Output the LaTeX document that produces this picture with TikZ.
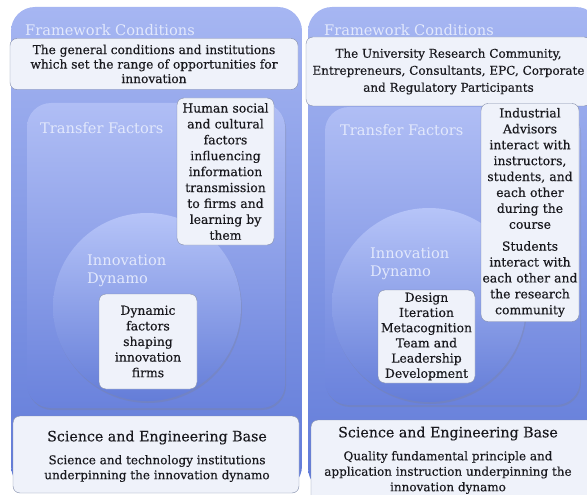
\documentclass[tikz,border=0pt]{standalone}
\usepackage{fontspec}
\setmainfont{DejaVu Serif}
\newfontfamily\inkfont{DejaVu Serif}[FakeBold=0.35]
\usetikzlibrary{shadows}

\definecolor{panelhi}{RGB}{166,182,242}
\definecolor{panello}{RGB}{96,122,216}
\definecolor{tfhi}{RGB}{176,190,245}
\definecolor{tflo}{RGB}{106,130,220}
\definecolor{dynhi}{RGB}{182,196,248}
\definecolor{dynlo}{RGB}{100,125,216}
\definecolor{boxfill}{RGB}{239,242,250}
\definecolor{boxline}{RGB}{130,140,170}
\definecolor{ink}{RGB}{25,25,30}
\definecolor{tagtext}{RGB}{226,232,252}

\begin{document}
\begin{tikzpicture}[x=1pt, y=-1pt,
    panel/.style={rounded corners=24, top color=panelhi, bottom color=panello},
    tfarea/.style={rounded corners=24, top color=tfhi, bottom color=tflo,
      drop shadow={opacity=.25, shadow xshift=1pt, shadow yshift=-2pt}},
    dynamo/.style={top color=dynhi, bottom color=dynlo,
      drop shadow={opacity=.25, shadow xshift=1pt, shadow yshift=-2pt}},
    textbox/.style={draw=boxline, line width=.4pt, fill=boxfill, rounded corners=7,
      align=center, inner sep=1pt, text=ink, font=\inkfont\fontsize{12.4}{15.6}\selectfont},
    tag/.style={text=tagtext, anchor=west, align=left, inner sep=0pt,
      font=\fontsize{14.6}{18}\selectfont},
    basetitle/.style={text=ink, font=\inkfont\fontsize{14.2}{16}\selectfont},
    basetext/.style={text=ink, align=center, font=\inkfont\fontsize{12}{15}\selectfont}]
  \useasboundingbox (0,0) rectangle (587,495);
  \clip (0,0) rectangle (587,495);

  % left panel: the general model
  \shade[panel] (11,7) rectangle (302,490);
  \shade[tfarea] (27,103) rectangle (285,408);
  \shade[dynamo] (147,307) circle [radius=94pt];

  \node[tag] (fc1) at (25,30) {Framework Conditions};
  \node[textbox, minimum width=288, minimum height=51,
    font=\inkfont\fontsize{12.2}{14.5}\selectfont] (gen1) at (154,64)
    {The general conditions and institutions\\which set the range of opportunities for\\innovation};
  \node[tag] (tf1) at (40,128) {Transfer Factors};
  \node[textbox, text width=95, minimum height=147,
    font=\inkfont\fontsize{12.4}{15.9}\selectfont] (hum1) at (225.5,171.5)
    {Human social\\and cultural\\factors\\influencing\\information\\transmission\\to firms and\\learning by\\them};
  \node[tag] (dyn1) at (87,271) {Innovation\\Dynamo};
  \node[textbox, text width=96, minimum height=95] (fac1) at (148,341.5)
    {Dynamic\\factors\\shaping\\innovation\\firms};
  \node[textbox, minimum width=286, minimum height=77] (seb1) at (156,454.5) {};
  \node[basetitle] (sebt1) at (157,437.5) {Science and Engineering Base};
  \node[basetext] (sebs1) at (157,468.5)
    {Science and technology institutions\\underpinning the innovation dynamo};

  % right panel: the course
  \shade[panel] (308,7) rectangle (600,492);
  \shade[tfarea] (325,107) rectangle (580,405);
  \shade[dynamo] (429,305) circle [radius=97pt];

  \node[tag] (fc2) at (324,30) {Framework Conditions};
  \node[textbox, minimum width=285, minimum height=69,
    font=\inkfont\fontsize{12}{17}\selectfont] (gen2) at (448.5,71.5)
    {The University Research Community,\\Entrepreneurs, Consultants, EPC, Corporate\\and Regulatory Participants};
  \node[tag] (tf2) at (340,130) {Transfer Factors};
  \node[textbox, text width=96, minimum height=218,
    font=\inkfont\fontsize{12.4}{15.9}\selectfont] (ind2) at (530,212.5)
    {Industrial\\Advisors\\interact with\\instructors,\\students, and\\each other\\during the\\course\\[6pt]Students\\interact with\\each other and\\the research\\community};
  \node[tag] (dyn2) at (370,264) {Innovation\\Dynamo};
  \node[textbox, text width=95, minimum height=93,
    font=\inkfont\fontsize{12.4}{15.2}\selectfont] (des2) at (426.5,336.5)
    {Design\\Iteration\\Metacognition\\Team and\\Leadership\\Development};
  \node[textbox, minimum width=285, minimum height=82] (seb2) at (453.5,461) {};
  \node[basetitle] (sebt2) at (448,433.5) {Science and Engineering Base};
  \node[basetext, font=\inkfont\fontsize{12}{15.5}\selectfont] (sebs2) at (448,472.5)
    {Quality fundamental principle and\\application instruction underpinning the\\innovation dynamo};
\end{tikzpicture}
\end{document}
